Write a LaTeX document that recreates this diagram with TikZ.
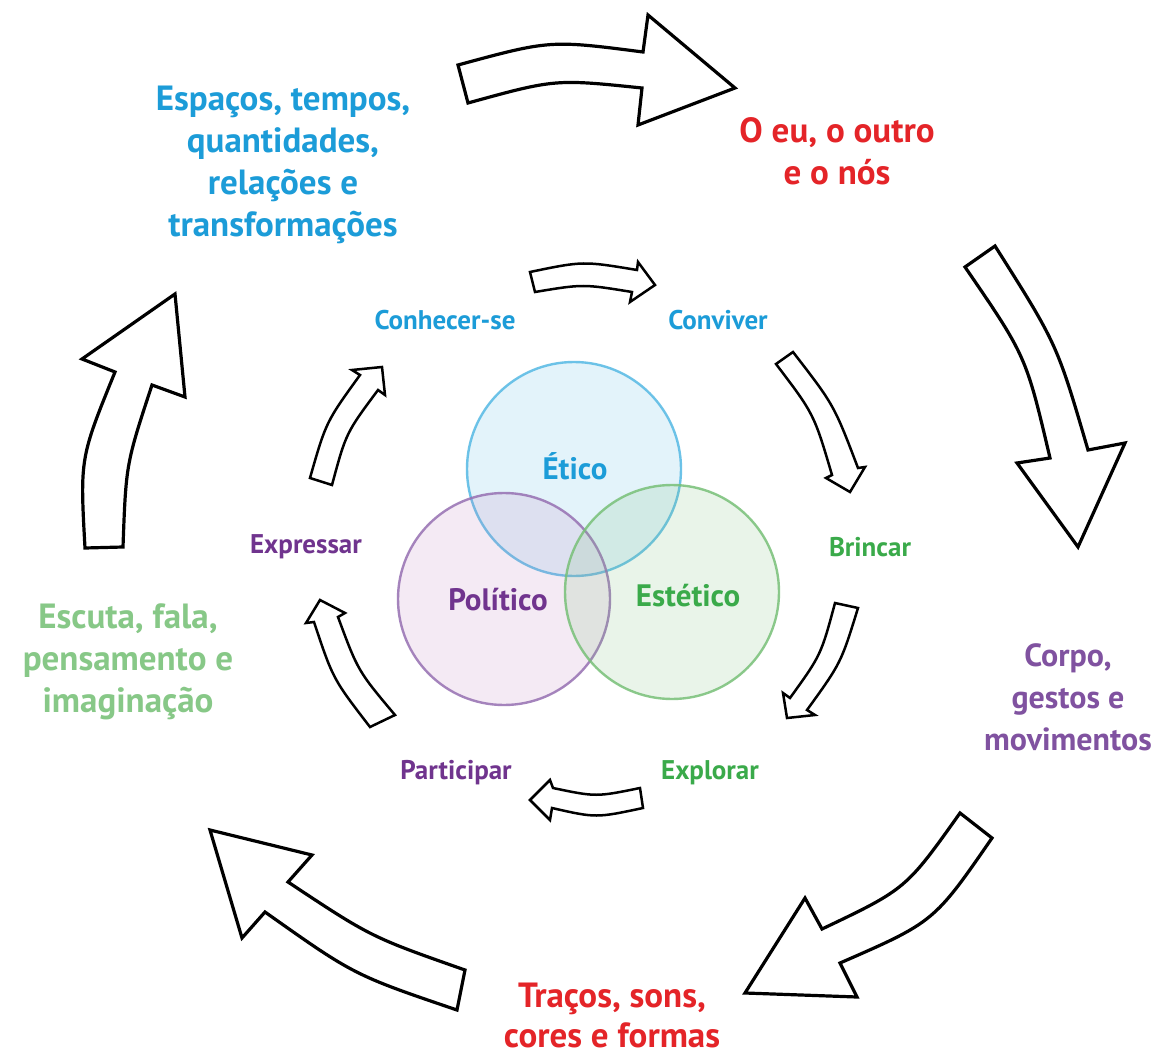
\documentclass[tikz,border=0pt]{standalone}
\usepackage{fontspec}
\setmainfont{PT Sans}
\definecolor{cblue}{RGB}{28,156,216}
\definecolor{cred}{RGB}{228,36,40}
\definecolor{cpurple}{RGB}{112,52,142}
\definecolor{cpurpleb}{RGB}{128,82,160}
\definecolor{cgreen}{RGB}{58,170,74}
\definecolor{cgreenl}{RGB}{135,200,135}
\definecolor{ringblue}{RGB}{85,185,228}
\definecolor{ringpurple}{RGB}{150,112,178}
\definecolor{ringpink}{RGB}{190,130,190}
\definecolor{ringgreen}{RGB}{120,192,120}
\begin{document}
\begin{tikzpicture}[x=1pt,y=-1pt,
  blockarrow/.style={draw=black, line width=3.2pt, fill=white, line join=miter},
  smallarrow/.style={draw=black, line width=2.5pt, fill=white, line join=miter},
  outerlabel/.style={font=\bfseries\fontsize{35}{42}\selectfont, align=center, inner sep=0pt},
  innerlabel/.style={font=\bfseries\fontsize{27}{32}\selectfont, inner sep=0pt},
  circlabel/.style={font=\bfseries\fontsize{31}{36}\selectfont, inner sep=0pt},
  ring/.style={line width=2.4pt, fill opacity=0.16, draw opacity=0.85}
]
\useasboundingbox (0,0) rectangle (1156,1056);
\fill[white] (0,0) rectangle (1156,1056);

% outer arrows
\draw[blockarrow] (458,65) .. controls (550,40) .. (643,52) -- (648,15) -- (735,88) -- (638,125) -- (642,88) .. controls (555,79) .. (468,103) -- cycle;
\draw[blockarrow] (995,246) .. controls (1057,344) .. (1088,450) -- (1125,443) -- (1078,547) -- (1017,463) -- (1050,458) .. controls (1026,356) .. (965,267) -- cycle;
\draw[blockarrow] (960,813) .. controls (906,889) .. (822,929) -- (805,898) -- (745,993) -- (857,997) -- (840,963) .. controls (934,922) .. (992,838) -- cycle;
\draw[blockarrow] (465,970) .. controls (371,937) .. (288,882) -- (312,855) -- (210,830) -- (242,938) -- (265,912) .. controls (354,975) .. (457,1010) -- cycle;
\draw[blockarrow] (85,548) .. controls (80,458) .. (115,372) -- (82,359) -- (175,294) -- (185,397) -- (152,385) .. controls (126,464) .. (123,547) -- cycle;

% inner arrows
\draw[smallarrow] (530,272) .. controls (583,261) .. (637,270) -- (638,262) -- (655,285) -- (630,302) -- (632,292) .. controls (583,284) .. (535,292) -- cycle;
\draw[smallarrow] (793,352) .. controls (834,405) .. (858,468) -- (865,467) -- (850,492) -- (826,478) -- (832,475) .. controls (814,414) .. (776,364) -- cycle;
\draw[smallarrow] (835,603) .. controls (821,655) .. (790,698) -- (783,693) -- (787,718) -- (815,715) -- (807,710) .. controls (841,663) .. (858,608) -- cycle;
\draw[smallarrow] (640,788) .. controls (596,797) .. (553,788) -- (550,780) -- (530,800) -- (550,820) -- (552,808) .. controls (596,818) .. (643,808) -- cycle;
\draw[smallarrow] (370,727) .. controls (333,679) .. (314,622) -- (306,623) -- (320,600) -- (345,613) -- (338,617) .. controls (358,671) .. (395,715) -- cycle;
\draw[smallarrow] (310,478) .. controls (326,422) .. (360,375) -- (352,370) -- (382,367) -- (385,395) -- (378,390) .. controls (346,433) .. (332,485) -- cycle;

% circles
\draw[ring, draw=ringblue, fill=ringblue] (574,469) circle[radius=107pt];
\draw[ring, draw=ringpurple, fill=ringpink] (504,599) circle[radius=106pt];
\draw[ring, draw=ringgreen, fill=ringgreen] (672,592) circle[radius=107pt];

\node[circlabel, text=cblue] (etico) at (575,466) {Ético};
\node[circlabel, text=cpurple] (politico) at (498,600) {Político};
\node[circlabel, text=cgreen] (estetico) at (688,596) {Estético};

% inner labels
\node[innerlabel, text=cblue] (conhecer) at (445,320) {Conhecer-se};
\node[innerlabel, text=cblue] (conviver) at (718,320) {Conviver};
\node[innerlabel, text=cgreen] (brincar) at (870,547) {Brincar};
\node[innerlabel, text=cgreen] (explorar) at (710,773) {Explorar};
\node[innerlabel, text=cpurple] (participar) at (456,773) {Participar};
\node[innerlabel, text=cpurple] (expressar) at (306,547) {Expressar};

% outer labels
\node[outerlabel, text=cblue] (espacos) at (283,165) {Espaços, tempos,\\quantidades,\\relações e\\transformações};
\node[outerlabel, text=cred] (eu) at (837,151) {O eu, o outro\\e o nós};
\node[outerlabel, text=cpurpleb, font=\bfseries\fontsize{32}{42}\selectfont] (corpo) at (1068,697) {Corpo,\\gestos e\\movimentos};
\node[outerlabel, text=cred, font=\bfseries\fontsize{35}{40}\selectfont] (tracos) at (612,1015) {Traços, sons,\\cores e formas};
\node[outerlabel, text=cgreenl] (escuta) at (128,662) {Escuta, fala,\\pensamento e\\imaginação};
\end{tikzpicture}
\end{document}
